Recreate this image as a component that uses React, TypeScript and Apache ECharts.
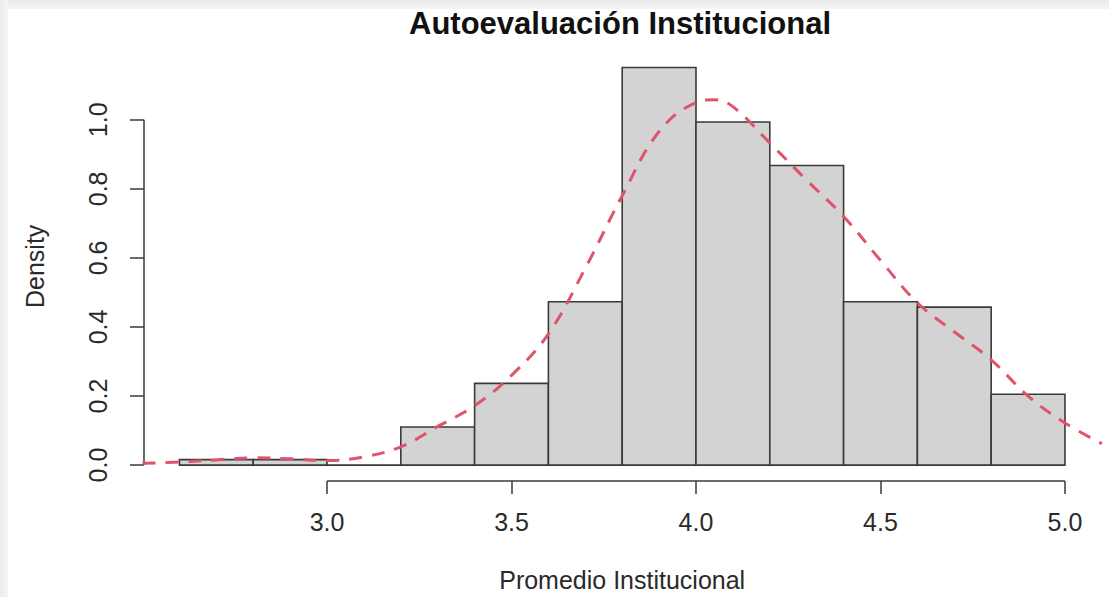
import React, { useEffect, useRef } from "react";
import * as echarts from "echarts";

// Histogram bin edges and densities (317 obs, bin width 0.2)
const breaks = [2.6, 2.8, 3.0, 3.2, 3.4, 3.6, 3.8, 4.0, 4.2, 4.4, 4.6, 4.8, 5.0];
const densities = [0.0158, 0.0158, 0, 0.1104, 0.2366, 0.4732, 1.1514, 0.9937, 0.8675, 0.4732, 0.4574, 0.205];

// Kernel density estimate
const kdeX = [2.5, 2.6, 2.7, 2.8, 2.9, 3.0, 3.1, 3.2, 3.3, 3.4, 3.5, 3.6, 3.7, 3.8, 3.9, 4.0, 4.05, 4.1, 4.2, 4.3, 4.4, 4.5, 4.6, 4.7, 4.8, 4.9, 5.0, 5.1];
const kdeY = [0.005, 0.009, 0.015, 0.021, 0.018, 0.013, 0.024, 0.053, 0.112, 0.172, 0.26, 0.38, 0.57, 0.78, 0.966, 1.05, 1.058, 1.038, 0.933, 0.825, 0.72, 0.593, 0.47, 0.386, 0.305, 0.2, 0.122, 0.062];

const xTicks = [3.0, 3.5, 4.0, 4.5, 5.0];
const yTicks = [0, 0.2, 0.4, 0.6, 0.8, 1.0];

const titleText = "Autoevaluación Institucional";
const xName = "Promedio Institucional";
const yName = "Density";

const FONT = "'Liberation Sans', Arial, Helvetica, sans-serif";
const AXIS_COLOR = "#3a3a3a";
const TEXT_COLOR = "#2a2a2a";

export default function App() {
  const ref = useRef<HTMLDivElement>(null);

  useEffect(() => {
    if (!ref.current) return;
    const chart = echarts.init(ref.current, undefined, { renderer: "svg" });

    const xMin = 2.504;
    const xMax = 5.096;
    const yMin = -0.0461;
    const yMax = 1.1975;

    const histData = densities.map((d, i) => [breaks[i], breaks[i + 1], d]);

    const option: any = {
      animation: false,
      backgroundColor: "#ffffff",
      graphic: [
        {
          type: "rect",
          shape: { x: 0, y: 0, width: 1109, height: 9 },
          style: {
            fill: new echarts.graphic.LinearGradient(0, 0, 0, 1, [
              { offset: 0, color: "#ebebeb" },
              { offset: 1, color: "#f5f5f5" },
            ]),
          },
          silent: true,
        },
        {
          type: "rect",
          shape: { x: 0, y: 0, width: 8, height: 597 },
          style: {
            fill: new echarts.graphic.LinearGradient(0, 0, 1, 0, [
              { offset: 0, color: "#ebebeb" },
              { offset: 1, color: "#f5f5f5" },
            ]),
          },
          silent: true,
        },
        {
          type: "text",
          x: 620,
          y: 23,
          style: {
            text: titleText,
            font: `bold 31px ${FONT}`,
            fill: "#111",
            textAlign: "center",
            textVerticalAlign: "middle",
          },
        },
      ],
      grid: {
        left: 144,
        right: 8.6,
        top: 51.6,
        bottom: 114.5,
        containLabel: false,
      },
      xAxis: {
        type: "value",
        min: xMin,
        max: xMax,
        axisLine: { show: false, onZero: false },
        splitLine: { show: false },
        axisTick: {
          show: true,
          customValues: xTicks,
          length: 13,
          lineStyle: { color: AXIS_COLOR, width: 1.5 },
        },
        axisLabel: {
          customValues: xTicks,
          formatter: (v: number) => v.toFixed(1),
          fontSize: 25,
          fontFamily: FONT,
          color: TEXT_COLOR,
          margin: 28,
        },
        name: xName,
        nameLocation: "middle",
        nameGap: 86,
        nameTextStyle: { fontSize: 25, fontFamily: FONT, color: TEXT_COLOR },
      },
      yAxis: {
        type: "value",
        min: yMin,
        max: yMax,
        axisLine: { show: false, onZero: false },
        splitLine: { show: false },
        axisTick: {
          show: true,
          customValues: yTicks,
          length: 14,
          lineStyle: { color: AXIS_COLOR, width: 1.5 },
        },
        axisLabel: {
          customValues: yTicks,
          formatter: (v: number) => v.toFixed(1),
          fontSize: 25,
          fontFamily: FONT,
          color: TEXT_COLOR,
          rotate: 90,
          margin: 34,
        },
        name: yName,
        nameLocation: "middle",
        nameGap: 97,
        nameTextStyle: { fontSize: 25, fontFamily: FONT, color: TEXT_COLOR },
      },
      series: [
        {
          type: "custom",
          name: "hist",
          data: histData,
          encode: { x: [0, 1], y: 2 },
          renderItem: (params: any, api: any) => {
            const x0 = api.value(0);
            const x1 = api.value(1);
            const h = api.value(2);
            const p0 = api.coord([x0, 0]);
            const p1 = api.coord([x1, h]);
            return {
              type: "rect",
              shape: {
                x: p0[0],
                y: p1[1],
                width: p1[0] - p0[0],
                height: p0[1] - p1[1],
              },
              style: { fill: "#d3d3d3", stroke: "#3a3a3a", lineWidth: 1.6 },
            };
          },
        },
        {
          type: "line",
          name: "density",
          data: kdeX.map((x, i) => [x, kdeY[i]]),
          smooth: 0.4,
          showSymbol: false,
          symbol: "none",
          clip: true,
          lineStyle: { color: "#DF536B", width: 3, type: [13, 10] },
          z: 5,
        },
        {
          type: "line",
          name: "axes",
          data: [],
          clip: false,
          silent: true,
          markLine: {
            silent: true,
            symbol: "none",
            label: { show: false },
            lineStyle: { color: AXIS_COLOR, width: 1.5, type: "solid" },
            data: [
              [{ coord: [xTicks[0], yMin] }, { coord: [xTicks[xTicks.length - 1], yMin] }],
              [{ coord: [xMin, yTicks[0]] }, { coord: [xMin, yTicks[yTicks.length - 1]] }],
            ],
          },
        },
      ],
    };

    chart.setOption(option);
    return () => chart.dispose();
  }, []);

  return (
    <div
      ref={ref}
      style={{ position: "fixed", left: 0, top: 0, width: 1109, height: 597, background: "#fff" }}
    />
  );
}
